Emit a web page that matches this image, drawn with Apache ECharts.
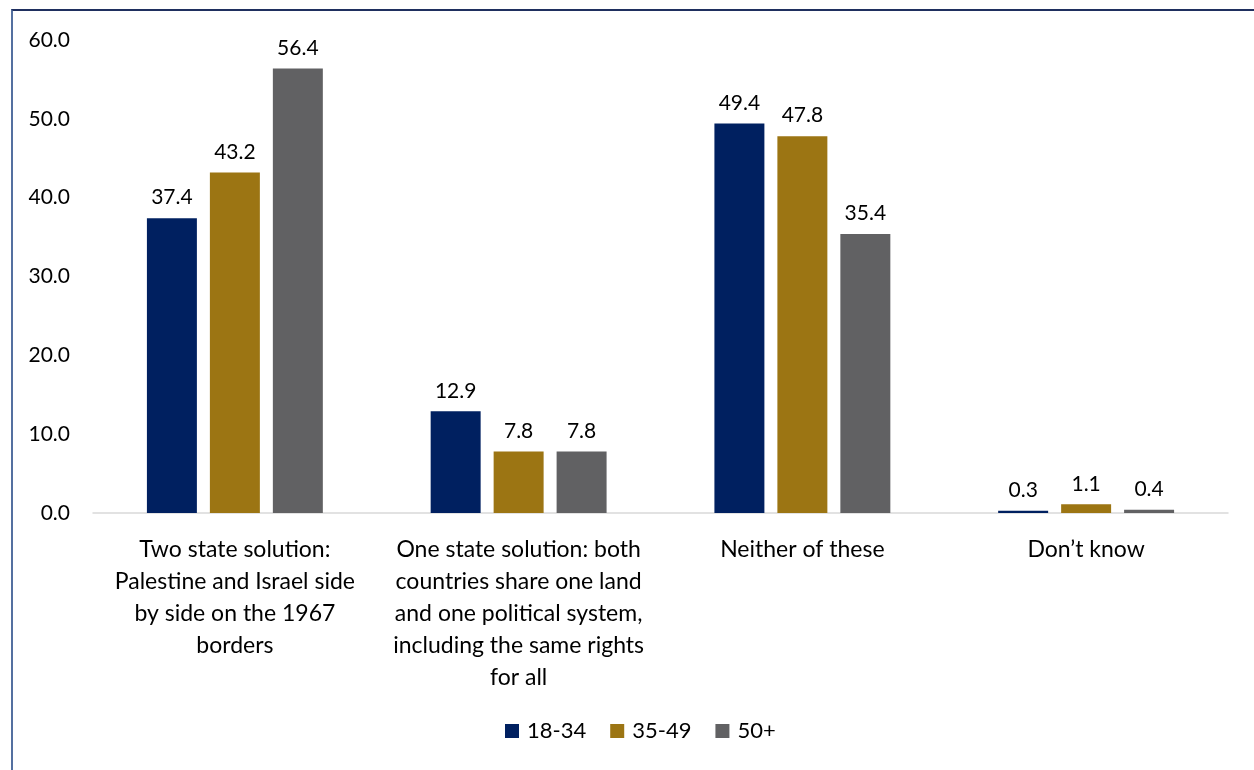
<!DOCTYPE html>
<html><head><meta charset="utf-8">
<script src="https://cdn.jsdelivr.net/npm/echarts@6/dist/echarts.min.js"></script>
<style>
html,body{margin:0;padding:0;background:#fff;}
#frame{position:absolute;left:11px;top:9px;width:1260px;height:780px;border-left:2px solid #5470a0;border-top:2px solid #1f2f5f;box-sizing:border-box;}
#c{position:absolute;left:0;top:0;width:1254px;height:770px;}
</style></head>
<body>
<div id="frame"></div>
<div id="c"></div>
<script>
const categories = [
  "Two state solution:\nPalestine and Israel side\nby side on the 1967\nborders",
  "One state solution: both\ncountries share one land\nand one political system,\nincluding the same rights\nfor all",
  "Neither of these",
  "Don\u2019t know"
];
const seriesNames = ["18-34", "35-49", "50+"];
const age18_34 = [37.4, 12.9, 49.4, 0.3];
const age35_49 = [43.2, 7.8, 47.8, 1.1];
const age50plus = [56.4, 7.8, 35.4, 0.4];
const colors = ["#002060", "#9C7513", "#616163"];
const yTicks = [0, 10, 20, 30, 40, 50, 60];

const font = "Lato, 'Open Sans', sans-serif";
const chart = echarts.init(document.getElementById('c'));
const mk = (name, data, color) => ({
  name, type: 'bar', data,
  barGap: '26%', barCategoryGap: '38%',
  itemStyle: {color},
  label: {show: true, position: 'top', distance: 10, formatter: p => p.value.toFixed(1),
          fontFamily: font, fontSize: 21, color: '#000'}
});
chart.setOption({
  animation: false,
  textStyle: {fontFamily: font},
  grid: {left: 93, right: 26, top: 40, bottom: 257, containLabel: false},
  legend: {
    bottom: 23, left: 500, itemWidth: 14, itemHeight: 14, itemGap: 24,
    icon: 'rect', textStyle: {fontFamily: font, fontSize: 22, color: '#000', padding: [0, 0, 0, 3]},
    data: seriesNames
  },
  xAxis: {
    type: 'category', data: categories,
    axisLine: {lineStyle: {color: '#d9d9d9', width: 1.5}},
    axisTick: {show: false},
    axisLabel: {interval: 0, margin: 21, fontFamily: font, fontSize: 23, lineHeight: 32, color: '#000', align: 'center'}
  },
  yAxis: {
    type: 'value', min: yTicks[0], max: yTicks[yTicks.length - 1], interval: 10,
    splitLine: {show: false}, axisLine: {show: false}, axisTick: {show: false},
    axisLabel: {margin: 23, fontFamily: font, fontSize: 21, color: '#000', formatter: v => v.toFixed(1)}
  },
  series: [
    mk(seriesNames[0], age18_34, colors[0]),
    mk(seriesNames[1], age35_49, colors[1]),
    mk(seriesNames[2], age50plus, colors[2])
  ]
});
</script>
</body></html>
